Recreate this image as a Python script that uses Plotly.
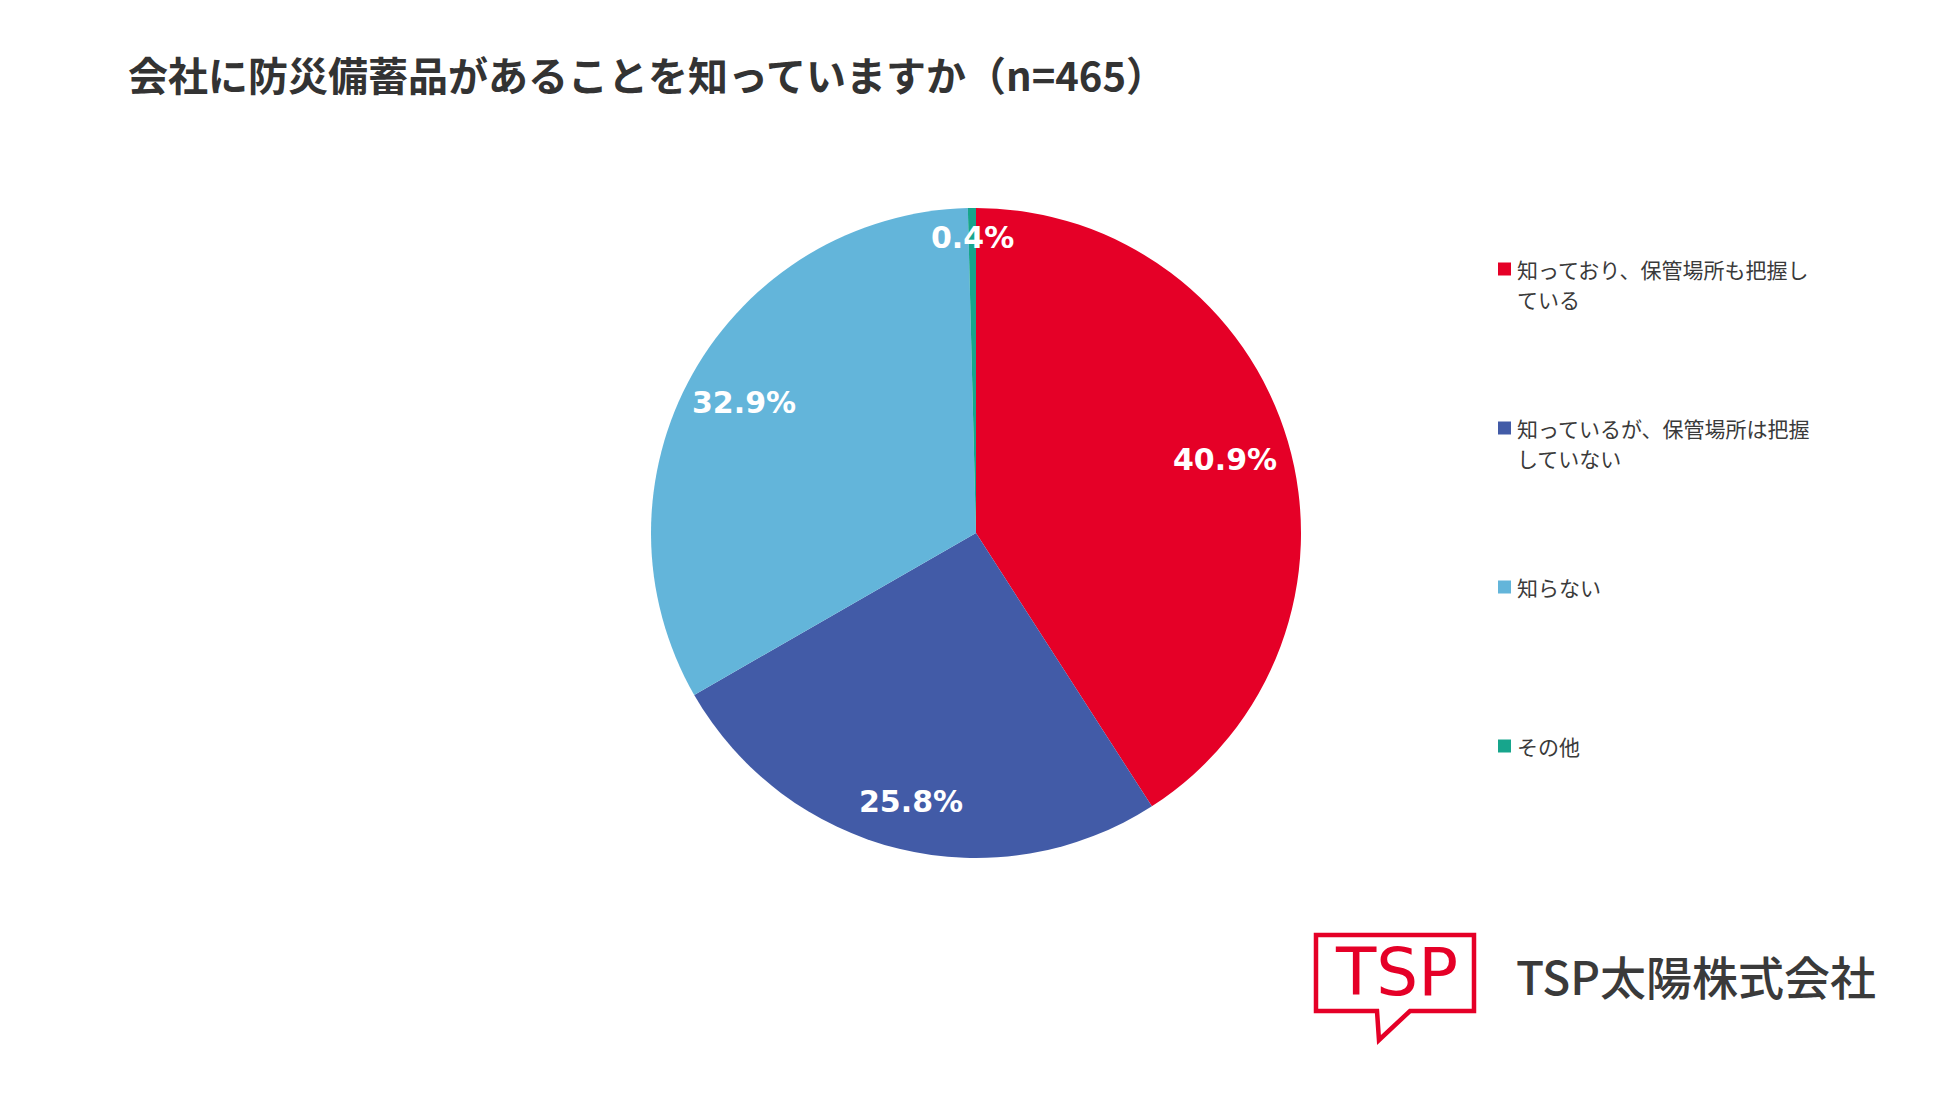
import math
import plotly.graph_objects as go

# page coordinates; the figure sits 8px in from the page corner (body margin)
W, H = 1950, 1097
OFF = 8
FW, FH = W - OFF, H - OFF

title = "会社に防災備蓄品があることを知っていますか（n=465）"
labels = ["知っており、保管場所も把握している", "知っているが、保管場所は把握していない", "知らない", "その他"]
values = [40.9, 25.8, 32.9, 0.4]
colors = ["#E50027", "#425BA7", "#63B5DA", "#17A58C"]
company = "TSP太陽株式会社"


def fx(x):
    return (x - OFF) / FW


def fy(y):
    return 1 - (y - OFF) / FH


# pie placement (page pixels)
cx, cy, r = 976, 533, 325
label_r = [0.80, 0.85, 0.82, 0.91]

fig = go.Figure()
fig.add_trace(go.Pie(
    labels=labels, values=values, sort=False, direction="clockwise", rotation=0,
    marker=dict(colors=colors, line=dict(width=0)),
    textinfo="none", showlegend=False,
    domain=dict(x=[fx(cx - r), fx(cx + r)], y=[fy(cy + r), fy(cy - r)]),
    hovertemplate="%{label}: %{value}%<extra></extra>",
))

annotations = []
shapes = []

# percentage labels on the slices
total = sum(values)
cum = 0
for i, v in enumerate(values):
    mid = (cum + v / 2) / total * 2 * math.pi
    cum += v
    px = cx + label_r[i] * r * math.sin(mid)
    py = cy - label_r[i] * r * math.cos(mid)
    annotations.append(dict(
        x=fx(px), y=fy(py), xref="paper", yref="paper", showarrow=False,
        text=f"{v:.1f}%", font=dict(family="DejaVu Sans", size=30, color="white", weight="bold"),
        xanchor="center", yanchor="middle",
    ))

# legend drawn by hand (wide spacing like the original)
leg_x, leg_y0, leg_step, line_h = 1498, 269, 159, 30
for i, lab in enumerate(labels):
    y = leg_y0 + i * leg_step
    shapes.append(dict(type="rect", xref="paper", yref="paper",
                       x0=fx(leg_x), x1=fx(leg_x + 13), y0=fy(y - 6.5), y1=fy(y + 6.5),
                       fillcolor=colors[i], line=dict(width=0)))
    for j, k in enumerate(range(0, len(lab), 14)):
        annotations.append(dict(
            x=fx(leg_x + 17), y=fy(y + j * line_h), xref="paper", yref="paper", showarrow=False,
            text=lab[k:k + 14], align="left", xanchor="left", yanchor="middle",
            font=dict(family="Noto Sans CJK JP", size=21, color="#3a3a3a"),
        ))

# logo: speech bubble with TSP
def P(x, y):
    return f"{fx(x):.5f},{fy(y):.5f}"

bubble = (f"M {P(1377, 1011)} L {P(1316, 1011)} L {P(1316, 935)} L {P(1474, 935)} "
          f"L {P(1474, 1011)} L {P(1410, 1011)} L {P(1379, 1040)} Z")
shapes.append(dict(type="path", xref="paper", yref="paper", path=bubble,
                   line=dict(color="#E50027", width=4.5), fillcolor="rgba(0,0,0,0)"))
annotations.append(dict(x=fx(1396), y=fy(972), xref="paper", yref="paper", showarrow=False,
                        text="TSP", xanchor="center", yanchor="middle",
                        font=dict(family="DejaVu Sans", size=66, color="#E50027")))
annotations.append(dict(x=fx(1514), y=fy(975), xref="paper", yref="paper", showarrow=False,
                        text=company, xanchor="left", yanchor="middle",
                        font=dict(family="Noto Sans CJK JP", size=46, color="#3a3a3a", weight=500)))

fig.update_layout(
    width=FW, height=FH,
    margin=dict(l=0, r=0, t=0, b=0),
    paper_bgcolor="white", plot_bgcolor="white",
    title=dict(text=title, x=fx(128), xanchor="left", y=fy(77), yanchor="middle",
               font=dict(family="Noto Sans CJK JP", size=40, color="#333333", weight="bold")),
    annotations=annotations, shapes=shapes,
)

fig.write_html("out.html")
